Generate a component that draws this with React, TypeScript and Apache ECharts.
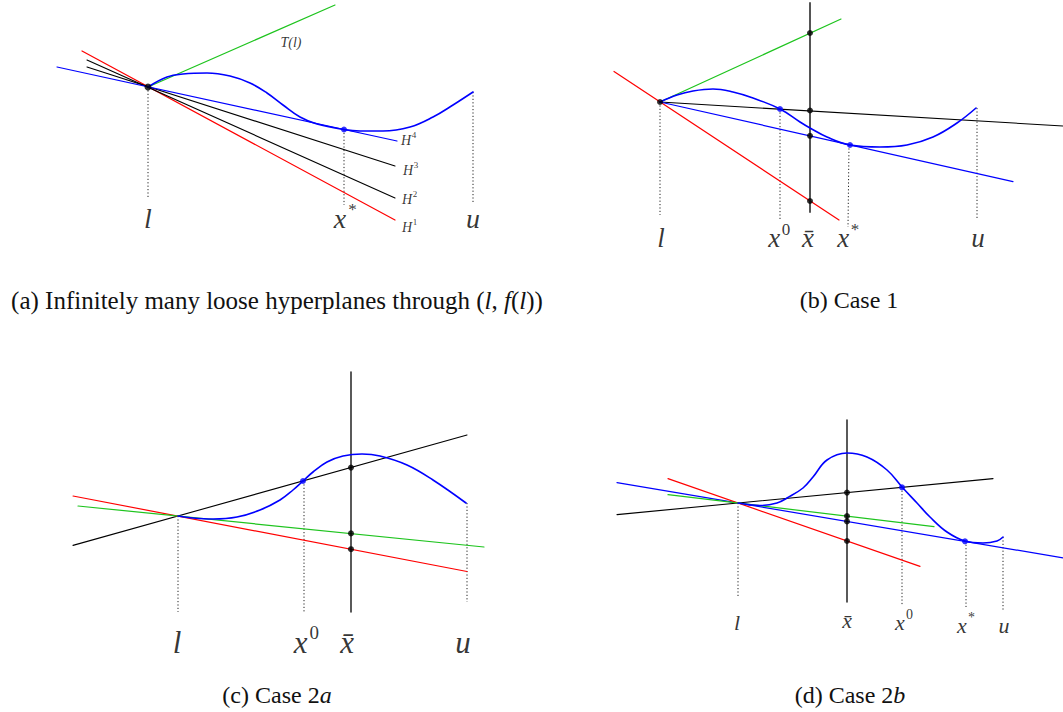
import { useEffect, useRef } from "react";
import * as echarts from "echarts";

type Pt = [number, number];

// ---------- Panel (a): loose hyperplanes through (l, f(l)); coordinates relative to l ----------
const curveA: Pt[] = [[0, 0], [19, 10], [35, 13], [59, 14], [82, 11], [102, 4], [119, -6], [135, -18], [152, -30], [169, -37], [196, -42.5], [212, -44], [235, -44], [262, -40], [285, -30], [305, -18], [325, -5]];
const tangentA: Pt[] = [[0, 0], [187, 82]];
const h1A: Pt[] = [[-66, 36], [247, -133]];
const h2A: Pt[] = [[-61, 27], [247, -111]];
const h3A: Pt[] = [[-61, 20], [247, -79]];
const h4A: Pt[] = [[-91, 20], [249, -54]];
const blackDotsA: Pt[] = [[0, 0]];
const blueDotsA: Pt[] = [[196, -42.5]];
const guidesA: Pt[][] = [[[0, 0], [0, -110]], [[196, -42.5], [196, -118]], [[325, -5], [325, -115]]];
const tickMainA = ["l", "x", "u"];
const tickSupA = ["", "*", ""];
const tickXA = [0, 196, 325];
const hSupA = ["4", "3", "2", "1"];

// ---------- Panel (b): Case 1 ----------
const curveB: Pt[] = [[0, 0], [17, 7], [33, 11], [53, 13], [73, 10], [93, 4], [120, -7], [140, -20], [150, -26], [167, -35], [190, -43], [220, -45], [247, -43], [273, -35], [297, -21], [316, -6]];
const greenB: Pt[] = [[0, 0], [181, 83]];
const redB: Pt[] = [[-46, 30.5], [179, -118]];
const blackB: Pt[] = [[0, 0], [403, -24]];
const blueB: Pt[] = [[0, 0], [353, -79.7]];
const xBarB: Pt[] = [[150, 99], [150, -110]];
const blackDotsB: Pt[] = [[0, 0], [150, 69], [150, -8.5], [150, -33.8], [150, -99]];
const blueDotsB: Pt[] = [[120, -7], [190, -43]];
const guidesB: Pt[][] = [[[0, 0], [0, -113]], [[120, -7], [120, -118]], [[189, -43], [188, -125]], [[317, -6], [317, -118]]];
const tickMainB = ["l", "x", "x\u0304", "x", "u"];
const tickSupB = ["", "0", "", "*", ""];
const tickXB = [1, 118, 148, 187, 318];

// ---------- Panel (c): Case 2a ----------
const curveC: Pt[] = [[0, 0], [15, -2], [35, -3], [59, -1], [82, 6], [102, 16], [115, 26], [125, 35], [135, 44], [149, 54], [165, 60], [184, 62], [202, 60], [229, 51], [255, 36], [288, 13]];
const blackC: Pt[] = [[-105, -29.4], [289, 81]];
const redC: Pt[] = [[-105, 20], [289, -55.5]];
const greenC: Pt[] = [[-100, 10], [306, -31]];
const xBarC: Pt[] = [[173, 144], [173, -96]];
const blackDotsC: Pt[] = [[173, 48.4], [173, -17.4], [173, -33.2]];
const blueDotsC: Pt[] = [[125, 35]];
const guidesC: Pt[][] = [[[0, 0], [0, -96]], [[126, 35], [126, -96]], [[289, 13], [289, -86]]];
const tickMainC = ["l", "x", "x\u0304", "u"];
const tickSupC = ["", "0", "", ""];
const tickXC = [-1, 127, 169, 285];

// ---------- Panel (d): Case 2b ----------
const curveD: Pt[] = [[0, 0], [22, -2.5], [39, 0], [49, 5], [65, 15], [75, 26], [89, 43], [109, 50], [129, 46], [149, 33], [164, 16], [179, 0], [192, -14], [209, -29], [227, -38], [245, -40], [259, -38], [265, -34]];
const blackD: Pt[] = [[-121, -11.6], [255, 24.4]];
const blueD: Pt[] = [[-121, 20.4], [325, -54.9]];
const redD: Pt[] = [[-70, 24.4], [182, -63.4]];
const greenD: Pt[] = [[-70, 8.4], [196, -23.6]];
const xBarD: Pt[] = [[109, 83], [109, -99]];
const blackDotsD: Pt[] = [[109, 10.4], [109, -13.1], [109, -18.4], [109, -38]];
const blueDotsD: Pt[] = [[164, 15.7], [227, -38.3]];
const guidesD: Pt[][] = [[[0, 0], [0, -95]], [[164, 15.7], [164, -102]], [[228, -38.3], [228, -104]], [[265, -34], [265, -107]]];
const tickMainD = ["l", "x\u0304", "x", "x", "u"];
const tickSupD = ["", "", "0", "*", ""];
const tickXD = [-1, 109, 165, 227, 266];
const tickYD = [-119, -117, -119, -122, -122];

// ---------- Captions: [text, italic] pieces ----------
const captionA: [string, boolean][] = [["(a) Infinitely many loose hyperplanes through (", false], ["l", true], [", ", false], ["f", true], ["(", false], ["l", true], ["))", false]];
const captionB: [string, boolean][] = [["(b) Case 1", false]];
const captionC: [string, boolean][] = [["(c) Case 2", false], ["a", true]];
const captionD: [string, boolean][] = [["(d) Case 2", false], ["b", true]];

const SERIF = "Liberation Serif";
const BLUE = "#0000ff";
const RED = "#ff0000";
const GREEN = "#1ec41e";
const BLACK = "#000000";

function line(g: number, data: Pt[], color: string, width = 1.2, dotted = false, smooth: number | boolean = false) {
  return {
    type: "line",
    xAxisIndex: g,
    yAxisIndex: g,
    data,
    symbol: "none",
    smooth,
    clip: false,
    silent: true,
    z: dotted ? 1 : 2,
    lineStyle: dotted
      ? { color: "#222", width: 1, type: [1.2, 2.2] }
      : { color, width, cap: "round" },
  };
}

function dots(g: number, data: Pt[], color: string, size = 6) {
  return {
    type: "scatter",
    xAxisIndex: g,
    yAxisIndex: g,
    data,
    symbol: "circle",
    symbolSize: size,
    clip: false,
    silent: true,
    z: 5,
    itemStyle: { color },
  };
}

// plain text labels anchored at data points; each item may carry its own pixel offset
function textSeries(g: number, items: { text: string; at: Pt; offset?: Pt }[], size: number, italic: boolean) {
  return {
    type: "scatter",
    xAxisIndex: g,
    yAxisIndex: g,
    data: items.map((it) => ({
      name: it.text,
      value: it.at,
      label: { offset: it.offset || [0, 0] },
    })),
    symbolSize: 1,
    clip: false,
    silent: true,
    z: 6,
    itemStyle: { color: "rgba(0,0,0,0)" },
    label: {
      show: true,
      position: "inside",
      color: BLACK,
      fontFamily: SERIF,
      fontStyle: italic ? "italic" : "normal",
      fontSize: size,
      formatter: (p: any) => p.name,
    },
  };
}

// main italic symbol plus an upright superscript beside it
function tickLabels(g: number, mains: string[], sups: string[], xs: number[], ys: number[], size: number) {
  const mainItems = mains.map((m, k) => ({
    text: m,
    at: [xs[k], ys[k]] as Pt,
    offset: (sups[k] ? [-size * 0.14, 0] : [0, 0]) as Pt,
  }));
  const supItems = sups
    .map((s, k) => ({ text: s, at: [xs[k], ys[k]] as Pt, offset: [size * 0.3, -size * 0.32] as Pt }))
    .filter((it) => it.text);
  return [textSeries(g, mainItems, size, true), textSeries(g, supItems, Math.round(size * 0.62), false)];
}

function captionGraphic(pieces: [string, boolean][], cx: number, cy: number, size: number) {
  const ctx = document.createElement("canvas").getContext("2d");
  const fontOf = (it: boolean) => `${it ? "italic " : ""}${size}px '${SERIF}'`;
  const widths = pieces.map(([t, it]) => {
    if (!ctx) return t.length * size * 0.45;
    ctx.font = fontOf(it);
    return ctx.measureText(t).width;
  });
  const total = widths.reduce((a, b) => a + b, 0);
  let x = cx - total / 2;
  return pieces.map(([t, it], k) => {
    const el = {
      type: "text",
      x,
      y: cy,
      silent: true,
      style: { text: t, font: fontOf(it), fill: "#111", align: "left", verticalAlign: "middle" },
    };
    x += widths[k];
    return el;
  });
}

export default function App() {
  const ref = useRef<HTMLDivElement>(null);

  useEffect(() => {
    if (!ref.current) return;
    const chart = echarts.init(ref.current, undefined, { renderer: "svg" });

    const grids = [
      { left: 48, top: 0, width: 440, height: 252 },
      { left: 600, top: 0, width: 463, height: 250 },
      { left: 58, top: 356, width: 440, height: 300 },
      { left: 608, top: 403, width: 455, height: 240 },
    ];
    const xRanges = [[-100, 340], [-60, 403], [-120, 320], [-130, 325]];
    const yRanges = [[-165, 87], [-148, 102], [-140, 160], [-140, 100]];

    const series: any[] = [];

    // (a)
    guidesA.forEach((gd) => series.push(line(0, gd, "#222", 1, true)));
    series.push(line(0, tangentA, GREEN));
    series.push(line(0, h1A, RED));
    series.push(line(0, h2A, BLACK, 1.1));
    series.push(line(0, h3A, BLACK, 1.1));
    series.push(line(0, h4A, BLUE));
    series.push(line(0, curveA, BLUE, 1.6, false, 0.4));
    series.push(dots(0, blackDotsA, BLACK, 7));
    series.push(dots(0, blueDotsA, BLUE, 6));
    series.push(...tickLabels(0, tickMainA, tickSupA, tickXA, tickXA.map(() => -131), 28));
    const hEnds: Pt[] = [
      [h4A[1][0] + 9, h4A[1][1] + 1],
      [h3A[1][0] + 13, h3A[1][1] - 4],
      [h2A[1][0] + 12, h2A[1][1] - 1],
      [h1A[1][0] + 12, h1A[1][1] - 7],
    ];
    series.push(textSeries(0, hEnds.map((p) => ({ text: "H", at: p })), 14, true));
    series.push(textSeries(0, hEnds.map((p, k) => ({ text: hSupA[k], at: p, offset: [8, -5] as Pt })), 9, false));
    series.push(textSeries(0, [{ text: "T(l)", at: [143, 45] }], 14, true));

    // (b)
    guidesB.forEach((gd) => series.push(line(1, gd, "#222", 1, true)));
    series.push(line(1, greenB, GREEN));
    series.push(line(1, redB, RED));
    series.push(line(1, blackB, BLACK, 1.1));
    series.push(line(1, blueB, BLUE));
    series.push(line(1, xBarB, "#555555", 2));
    series.push(line(1, curveB, BLUE, 1.6, false, 0.4));
    series.push(dots(1, blackDotsB, BLACK, 6));
    series.push(dots(1, blueDotsB, BLUE, 6));
    series.push(...tickLabels(1, tickMainB, tickSupB, tickXB, tickXB.map(() => -136), 27));

    // (c)
    guidesC.forEach((gd) => series.push(line(2, gd, "#222", 1, true)));
    series.push(line(2, blackC, BLACK, 1.1));
    series.push(line(2, redC, RED));
    series.push(line(2, greenC, GREEN));
    series.push(line(2, xBarC, BLACK, 1.3));
    series.push(line(2, curveC, BLUE, 1.6, false, 0.4));
    series.push(dots(2, blackDotsC, BLACK, 6));
    series.push(dots(2, blueDotsC, BLUE, 6));
    series.push(...tickLabels(2, tickMainC, tickSupC, tickXC, tickXC.map(() => -126), 31));

    // (d)
    guidesD.forEach((gd) => series.push(line(3, gd, "#222", 1, true)));
    series.push(line(3, blackD, BLACK, 1.1));
    series.push(line(3, blueD, BLUE));
    series.push(line(3, redD, RED));
    series.push(line(3, greenD, GREEN));
    series.push(line(3, xBarD, BLACK, 1.3));
    series.push(line(3, curveD, BLUE, 1.6, false, 0.4));
    series.push(dots(3, blackDotsD, BLACK, 6));
    series.push(dots(3, blueDotsD, BLUE, 6));
    series.push(...tickLabels(3, tickMainD, tickSupD, tickXD, tickYD, 22));

    const graphic = [
      ...captionGraphic(captionA, 277, 300, 25),
      ...captionGraphic(captionB, 849, 300, 24),
      ...captionGraphic(captionC, 277, 695, 24),
      ...captionGraphic(captionD, 850, 695, 24),
    ];

    chart.setOption({
      animation: false,
      backgroundColor: "#ffffff",
      grid: grids,
      xAxis: xRanges.map((r, k) => ({ type: "value", gridIndex: k, min: r[0], max: r[1], show: false })),
      yAxis: yRanges.map((r, k) => ({ type: "value", gridIndex: k, min: r[0], max: r[1], show: false })),
      series,
      graphic,
    });

    return () => chart.dispose();
  }, []);

  return (
    <div
      ref={ref}
      style={{ position: "absolute", left: 0, top: 0, width: 1063, height: 712, background: "#fff" }}
    />
  );
}
